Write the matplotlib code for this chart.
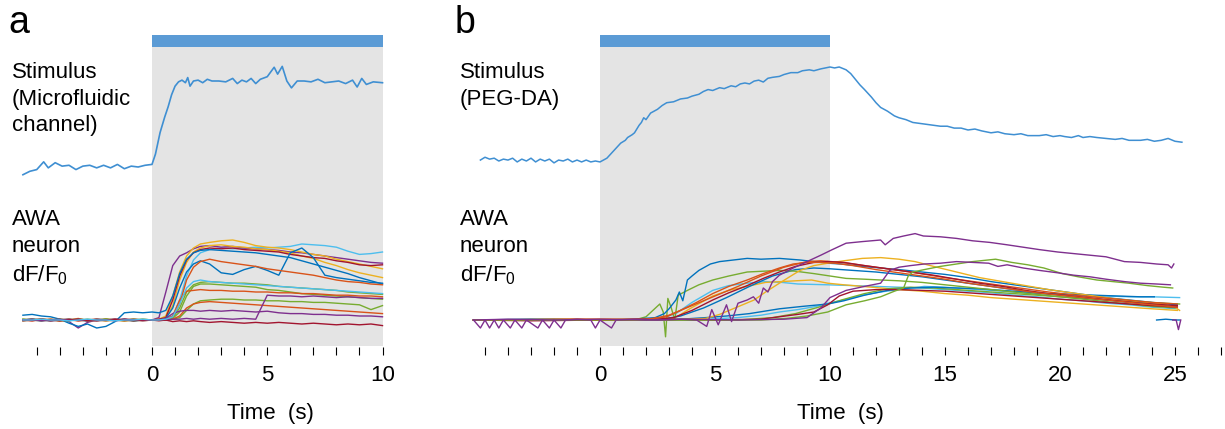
import matplotlib
matplotlib.use("Agg")
import matplotlib.pyplot as plt

plt.rcParams["font.family"] = ["Liberation Sans", "DejaVu Sans"]
plt.rcParams["mathtext.default"] = "regular"

W, H = 1225, 429

# ---------------- data ----------------
# panel a, stimulus (normalised) as (time s, value)
stim_a = [(-5.6, -0.09), (-5.3, -0.05), (-5.0, -0.03), (-4.7, 0.06), (-4.5, -0.01), (-4.2, 0.05),
          (-3.9, 0.01), (-3.6, 0.02), (-3.3, -0.03), (-3.0, 0.01), (-2.7, 0.02), (-2.4, -0.01),
          (-2.1, 0.02), (-1.8, -0.01), (-1.5, 0.03), (-1.2, -0.02), (-0.9, 0.01), (-0.6, 0.0),
          (-0.3, 0.02), (0.0, 0.03), (0.15, 0.15), (0.35, 0.40), (0.55, 0.58), (0.7, 0.70),
          (0.85, 0.84), (1.0, 0.94), (1.15, 0.99), (1.3, 1.01), (1.45, 0.98), (1.55, 1.04),
          (1.65, 0.94), (1.8, 1.0), (2.0, 1.01), (2.2, 0.98), (2.4, 1.02), (2.6, 1.0), (2.9, 1.0),
          (3.2, 0.99), (3.5, 1.03), (3.7, 0.97), (3.9, 1.01), (4.1, 0.99), (4.3, 1.03), (4.5, 0.97),
          (4.7, 1.02), (5.0, 1.05), (5.3, 1.16), (5.45, 1.08), (5.65, 1.17), (5.85, 1.0),
          (6.05, 0.92), (6.3, 1.0), (6.6, 1.0), (6.9, 0.99), (7.2, 1.02), (7.5, 0.98), (7.8, 0.99),
          (8.1, 1.0), (8.4, 0.97), (8.7, 1.01), (8.9, 0.93), (9.1, 1.03), (9.3, 0.96), (9.6, 0.99),
          (10.0, 0.98)]

# panel a, AWA dF/F0 traces on a shared time grid
t_a = [-5.6, -5.2, -4.8, -4.4, -4.0, -3.6, -3.2, -2.8, -2.4, -2.0, -1.6, -1.2, -0.8, -0.4,
       0.0, 0.3, 0.6, 0.9, 1.2, 1.5, 1.8, 2.1,
       2.5, 3.0, 3.5, 4.0, 4.5, 5.0, 5.5, 6.0, 6.5, 7.0, 7.5, 8.0, 8.5, 9.0, 9.5, 10.0]
a01 = [1, 0, -1, 1, 0, -1, 1, 0, -1, 0, 1, 0, -1, 0,
       0, 0, 1, 5, 25, 55, 75, 84,
       88, 90, 89, 90, 91, 90, 91, 92, 95, 94, 93, 91, 86, 82, 83, 85]
a02 = [0, 1, -1, 0, 1, -2, -10, -3, 0, 1, -1, 0, 1, 0,
       0, 3, 35, 68, 80, 84, 89, 92,
       93, 91, 92, 90, 89, 88, 87, 85, 84, 82, 80, 78, 76, 74, 72, 71]
a03 = [0, 1, 0, -1, 1, 0, 2, -1, 0, 1, 0, -1, 0, 1,
       0, 1, 5, 30, 60, 80, 90, 95,
       97, 99, 100, 97, 93, 91, 90, 88, 85, 82, 80, 76, 73, 70, 67, 64]
a04 = [1, 0, 0, 1, -1, 0, 1, 0, -1, 0, 1, 0, 0, -1,
       0, 0, 2, 18, 50, 72, 85, 90,
       93, 94, 92, 91, 89, 88, 86, 84, 80, 77, 72, 68, 63, 59, 56, 53]
a05 = [0, -1, 1, 0, 0, 1, -1, 0, 1, 0, -1, 1, 0, 0,
       0, 1, 3, 25, 55, 75, 84, 88,
       90, 89, 90, 88, 87, 86, 85, 82, 80, 78, 77, 74, 72, 69, 68, 69]
a06 = [6, 7, 5, 4, 1, -4, -8, -5, -10, -8, -2, 9, 10, 9,
       10, 9, 12, 30, 58, 76, 84, 87,
       88, 87, 86, 85, 84, 82, 80, 78, 74, 70, 66, 62, 58, 53, 49, 45]
a07 = [0, 1, 0, -1, 0, 1, 0, -1, 1, 0, 0, 1, -1, 0,
       0, 0, 2, 15, 40, 60, 70, 74,
       70, 59, 57, 63, 67, 62, 56, 84, 90, 78, 56, 53, 51, 49, 47, 46]
a08 = [0, 0, 1, -1, 0, 1, 0, 0, -1, 1, 0, 0, 1, 0,
       0, 0, 1, 3, 20, 50, 66, 73,
       76, 73, 71, 69, 67, 64, 62, 60, 58, 56, 53, 50, 48, 47, 45, 44]
a09 = [-1, 0, 1, 0, 0, -1, 1, 0, 0, 1, 0, -1, 0, 1,
       0, 0, 1, 3, 15, 35, 44, 47,
       48, 47, 46, 46, 45, 44, 42, 41, 40, 39, 38, 37, 35, 34, 33, 32]
a10 = [0, 1, 0, 0, -1, 0, 0, 1, 0, -1, 0, 0, 1, 0,
       0, 0, 0, 2, 10, 30, 42, 45,
       45, 44, 43, 42, 41, 38, 37, 35, 33, 32, 31, 30, 29, 28, 27, 26]
a11 = [0, -1, 0, 1, 0, 0, -1, 0, 1, 0, 0, -1, 0, 0,
       0, 0, 1, 5, 25, 36, 37, 38,
       37, 37, 36, 36, 35, 35, 34, 34, 33, 33, 32, 31, 31, 30, 30, 29]
a12 = [1, 0, -1, 0, 1, 0, 0, -1, 0, 1, 0, 0, -1, 0,
       0, 0, 0, 1, 3, 12, 20, 24,
       25, 26, 26, 25, 25, 24, 24, 23, 23, 22, 22, 21, 20, 19, 13, 18]
a13 = [0, 0, 1, 0, -1, 0, 1, 0, 0, -1, 0, 1, 0, 0,
       0, 0, 0, 1, 5, 15, 20, 22,
       23, 22, 21, 20, 19, 18, 17, 16, 15, 14, 13, 12, 11, 10, 9, 8]
a14 = [0, 1, 0, -1, 0, 0, 1, 0, -1, 0, 0, 1, 0, -1,
       0, 0, 2, 8, 11, 12, 12, 11,
       12, 11, 12, 11, 10, 11, 9, 8, 8, 7, 7, 6, 6, 5, 5, 4]
a15 = [0, 0, -1, 0, 1, 0, 0, -1, 0, 0, 1, 0, 0, 0,
       0, 0, 0, 1, 1, 2, 1, 2,
       1, 2, 1, 2, 1, 31, 30, 30, 29, 30, 29, 28, 29, 28, 27, 27]
a16 = [-1, 0, 1, 0, -1, 0, 1, -1, 0, 0, 1, 0, -1, 0,
       0, -1, 0, -2, -1, -2, -1, -2,
       -3, -2, -3, -4, -3, -4, -3, -4, -5, -4, -5, -6, -5, -6, -5, -7]
a17 = [0, 0, 1, 0, 0, -1, 0, 1, 0, 0, -1, 0, 0, 1,
       0, 0, 1, 4, 20, 40, 48, 50,
       48, 47, 46, 45, 44, 43, 42, 41, 40, 39, 38, 37, 36, 35, 34, 33]

# panel b, stimulus (normalised)
stim_b = [(-5.2, 0.01), (-5.0, 0.04), (-4.8, 0.02), (-4.6, 0.03), (-4.4, 0.0), (-4.2, 0.02),
          (-4.0, 0.01), (-3.8, 0.03), (-3.6, -0.01), (-3.4, 0.02), (-3.2, 0.0), (-3.0, 0.03),
          (-2.8, -0.01), (-2.6, 0.02), (-2.4, 0.0), (-2.2, 0.02), (-2.0, -0.02), (-1.8, 0.01),
          (-1.6, 0.0), (-1.4, 0.02), (-1.2, -0.01), (-1.0, 0.01), (-0.8, -0.01), (-0.6, 0.01),
          (-0.4, -0.01), (-0.2, 0.0), (0.0, -0.01), (0.3, 0.03), (0.6, 0.11), (0.9, 0.19),
          (1.1, 0.22), (1.2, 0.25), (1.4, 0.28), (1.5, 0.30), (1.7, 0.38), (1.8, 0.41),
          (1.9, 0.46), (2.0, 0.44), (2.2, 0.51), (2.5, 0.55), (2.7, 0.59), (2.9, 0.62),
          (3.2, 0.63), (3.5, 0.66), (3.8, 0.67), (4.0, 0.69), (4.3, 0.71), (4.5, 0.74),
          (4.7, 0.76), (4.9, 0.75), (5.2, 0.78), (5.4, 0.77), (5.7, 0.80), (5.9, 0.79),
          (6.1, 0.82), (6.3, 0.83), (6.5, 0.82), (6.7, 0.85), (6.9, 0.86), (7.1, 0.84),
          (7.3, 0.88), (7.5, 0.89), (7.8, 0.90), (8.0, 0.92), (8.3, 0.94), (8.6, 0.94),
          (8.8, 0.96), (9.1, 0.97), (9.3, 0.96), (9.6, 0.98), (9.8, 0.99), (10.0, 1.0),
          (10.2, 0.99), (10.4, 1.0), (10.7, 0.97), (10.9, 0.93), (11.1, 0.87), (11.3, 0.81),
          (11.5, 0.76), (11.8, 0.68), (12.0, 0.62), (12.2, 0.57), (12.5, 0.53), (12.8, 0.48),
          (13.0, 0.46), (13.3, 0.44), (13.6, 0.41), (13.9, 0.40), (14.2, 0.39), (14.5, 0.38),
          (14.8, 0.37), (15.1, 0.37), (15.4, 0.35), (15.7, 0.35), (16.0, 0.33), (16.3, 0.34),
          (16.6, 0.32), (17.0, 0.30), (17.3, 0.31), (17.6, 0.29), (18.0, 0.28), (18.3, 0.29),
          (18.6, 0.27), (19.1, 0.27), (19.4, 0.28), (19.7, 0.26), (20.0, 0.27), (20.2, 0.26),
          (20.5, 0.25), (20.8, 0.27), (21.0, 0.25), (21.3, 0.26), (21.6, 0.25), (22.0, 0.24),
          (22.4, 0.23), (22.7, 0.24), (23.0, 0.22), (23.5, 0.22), (23.8, 0.23), (24.1, 0.21),
          (24.4, 0.22), (24.7, 0.24), (25.0, 0.21), (25.3, 0.20)]

# panel b, AWA dF/F0 traces as (time s, value)
b_purple1 = [(-5.5, 0), (-5.2, -10), (-5.0, 0), (-4.8, -10), (-4.6, 0), (-4.4, -10), (-4.2, 0),
             (-3.9, -10), (-3.7, 0), (-3.4, -10), (-3.2, 0), (-2.7, -10), (-2.5, 0), (-2.2, -10),
             (-2.0, 0), (-1.7, -10), (-1.5, 0), (-1.0, 1), (-0.4, 0), (-0.2, -10), (0.0, 0),
             (0.5, -10), (0.7, 0), (1.5, 1), (2.5, 0), (3.5, 1), (4.2, 0), (4.64, -8), (4.86, 13),
             (5.14, -6), (5.5, 19), (5.72, -2), (6.0, 21), (6.4, 25), (6.67, 29), (6.9, 21),
             (7.1, 40), (7.3, 35), (7.5, 48), (7.8, 56), (8.4, 65), (9.0, 73), (9.6, 81),
             (10.1, 88), (10.7, 96), (11.4, 98), (12.2, 100), (12.4, 94), (12.75, 102), (13.2, 105),
             (13.7, 108), (14.06, 105), (14.8, 104), (15.5, 102), (16.2, 99), (16.95, 97),
             (17.7, 94), (18.4, 91), (19.1, 88), (19.9, 85), (20.6, 83), (21.3, 81), (22.0, 79),
             (22.8, 73), (23.5, 72), (24.2, 70), (24.7, 69), (24.85, 65), (24.95, 70)]
b_purple2 = [(-5.5, 0), (-4, 1), (-2, 0), (0, 1), (2, 0), (4, 1), (6, 0), (8, 1), (9.0, 3),
             (9.6, 15), (10.0, 28), (10.7, 37), (11.5, 42), (12.2, 46), (12.6, 62), (13.0, 66),
             (13.5, 68), (14.1, 70), (14.8, 71), (15.5, 73), (16.2, 72), (16.9, 71), (17.3, 67),
             (17.7, 69), (18.4, 65), (19.1, 62), (19.9, 59), (20.6, 56), (21.3, 54), (22.0, 51),
             (22.8, 48), (23.5, 46), (24.2, 45), (24.8, 44)]
b_blue1 = [(-5.5, 0), (-3, 1), (0, 0), (1.5, 1), (2.4, 3), (2.8, 8), (3.0, 14), (3.3, 25),
           (3.45, 35), (3.6, 24), (3.8, 50), (4.0, 55), (4.3, 62), (4.8, 70), (5.2, 73), (5.8, 75),
           (6.4, 77), (7.0, 76), (7.8, 77), (8.7, 75), (9.3, 73), (9.9, 71), (10.5, 70),
           (11.4, 67), (12.2, 65), (13.0, 63), (14, 60), (15, 57), (16, 53), (17, 48), (18, 44),
           (19, 40), (20, 36), (21, 32), (22, 28), (23, 25), (24, 22), (25.1, 19)]
b_green1 = [(-5.5, 0), (-2, 1), (0, 0), (1.5, 0), (2.0, 4), (2.3, 12), (2.6, 20), (2.75, 10),
            (2.85, -21), (2.95, 27), (3.1, 15), (3.25, 0), (3.4, 31), (3.8, 37), (4.3, 44),
            (4.9, 50), (5.6, 55), (6.4, 60), (7.1, 61), (7.8, 62), (8.5, 61), (9.3, 58),
            (10.0, 55), (10.7, 52), (11.5, 51), (12.2, 50), (13.0, 49), (14, 47), (15, 44),
            (16, 41), (17, 38), (18, 35), (19, 32), (20, 29), (21, 26), (22, 23), (23, 20),
            (24, 17), (25.1, 15)]
b_red1 = [(-5.5, 0), (-1, 1), (0, 0), (2.0, 1), (2.9, 4), (3.5, 12), (4.2, 22), (4.9, 33),
          (5.6, 42), (6.4, 50), (7.1, 58), (7.8, 65), (8.4, 70), (9.0, 72), (9.6, 72), (10.2, 71),
          (11.0, 68), (12.0, 63), (13.0, 59), (14.0, 55), (15.0, 51), (16.0, 46), (17.0, 42),
          (18.0, 38), (19.0, 34), (20.0, 31), (21.0, 28), (22.0, 25), (23.0, 22), (24.0, 19),
          (25.1, 16)]
b_red2 = [(-5.5, 0), (-3, -1), (0, 0), (2.5, 1), (3.2, 3), (4.0, 12), (4.9, 25), (5.6, 34),
          (6.4, 43), (7.1, 52), (7.8, 60), (8.5, 67), (9.3, 72), (9.9, 73), (10.6, 72),
          (11.5, 68), (12.5, 64), (13.5, 60), (14.5, 56), (15.5, 51), (16.5, 46), (17.5, 42),
          (18.5, 37), (19.5, 33), (20.5, 30), (21.5, 27), (22.5, 24), (23.5, 21), (24.5, 19),
          (25.1, 18)]
b_red3 = [(-5.5, 0), (-2, 0), (0, 0), (3, 1), (5, 0), (7.0, 1), (7.8, 4), (8.6, 7), (9.3, 10),
          (9.9, 19), (10.4, 30), (11.0, 36), (12.0, 38), (13.0, 38), (14.0, 37), (15.0, 36),
          (16.0, 34), (17.0, 32), (18.0, 30), (19.0, 28), (20.0, 26), (21.0, 24), (22.0, 22),
          (23.0, 20), (24.0, 18), (25.1, 16)]
b_red4 = [(-5.5, 0), (0, 1), (2.2, 1), (3.0, 6), (4.0, 18), (5.0, 30), (6.0, 42), (7.0, 55),
          (8.0, 66), (9.0, 73), (9.6, 74), (10.5, 72), (12, 66), (13.5, 60), (15, 53),
          (16.5, 47), (18, 41), (19.5, 35), (21, 30), (22.5, 26), (24, 22), (25.1, 20)]
b_yellow1 = [(-5.5, 0), (-1, 0), (0, 0), (3.0, 0), (4.6, 2), (5.2, 7), (5.7, 13), (6.2, 19),
             (6.7, 25), (7.2, 35), (7.8, 46), (8.3, 55), (8.7, 62), (9.3, 68), (9.9, 71),
             (10.6, 74), (11.4, 77), (12.2, 78), (13.0, 76), (13.7, 73), (14.5, 67), (15.5, 60),
             (16.5, 53), (17.5, 48), (18.5, 43), (19.5, 38), (20.5, 34), (21.5, 30), (22.5, 26),
             (23.5, 23), (24.5, 20), (25.0, 16), (25.2, 12)]
b_yellow2 = [(-5.5, 0), (0, 1), (3.0, 0), (3.4, 5), (3.9, 14), (4.4, 22), (4.9, 30), (5.6, 37),
             (6.4, 42), (7.2, 47), (7.9, 48), (8.5, 49), (9.2, 50), (9.9, 46), (10.6, 44),
             (11.4, 42), (12.2, 40), (13.0, 38), (14, 36), (15, 33), (16, 31), (17, 28), (18, 26),
             (19, 24), (20, 22), (21, 20), (22, 18), (23, 16), (24, 14), (25.1, 12)]
b_lblue1 = [(-5.5, 0), (0, 0), (2.5, 1), (3.3, 8), (4.0, 22), (4.9, 37), (5.6, 43), (6.4, 46),
            (7.2, 48), (7.9, 47), (8.6, 45), (9.9, 44), (11.0, 43), (12.0, 42), (13.0, 41),
            (14, 40), (15, 38), (16, 36), (17, 34), (18, 31), (19, 29), (20, 26), (21, 24),
            (22, 21), (23, 19), (24, 16), (25.1, 14)]
b_lblue2 = [(-5.5, 0), (0, 0), (4, 0), (6, 3), (7.0, 6), (7.8, 10), (8.6, 13), (9.4, 17),
            (9.9, 21), (10.6, 25), (11.4, 31), (12.2, 35), (13.0, 38), (14.1, 42), (15, 41),
            (16, 39), (17, 37), (18, 35), (19, 33), (20, 32), (21, 31), (22, 30), (23, 29),
            (24, 29), (25.2, 28)]
b_blue2 = [(-5.5, 0), (0, 0), (3, 0), (4.6, 3), (5.5, 5), (6.5, 8), (7.8, 14), (8.8, 17),
           (9.9, 20), (10.6, 24), (11.5, 31), (12.5, 37), (13.5, 40), (14.5, 41), (15.5, 40),
           (16.5, 39), (17.5, 37), (18.5, 35), (19.5, 33), (20.5, 32), (21.5, 31), (22.5, 30),
           (23.5, 29), (24.1, 29)]
b_blue3 = [(-5.5, 0), (0, 0), (2.5, 0), (3.5, 5), (4.5, 15), (5.5, 28), (6.5, 42), (7.5, 55),
           (8.5, 63), (9.3, 65), (10, 64), (11, 62), (12, 60), (13, 57), (14, 54), (15, 50),
           (16, 46), (17, 42), (18, 38), (19, 34), (20, 31), (21, 28), (22, 25), (23, 22),
           (24, 20), (25.1, 17)]
b_green2 = [(-5.5, 0), (0, 0), (5, 0), (7.0, 0), (8.1, 2), (9.0, 5), (9.9, 10), (10.7, 19),
            (11.5, 24), (12.2, 29), (12.8, 36), (13.2, 40), (13.4, 55), (13.6, 60), (14.1, 63),
            (14.8, 67), (15.5, 70), (16.2, 73), (17.2, 76), (17.9, 72), (18.6, 69), (19.3, 65),
            (20.1, 58), (20.8, 54), (21.6, 50), (22.3, 48), (23.0, 46), (23.8, 43), (24.5, 41),
            (24.9, 40)]
b_green3 = [(-5.5, 0), (0, 0), (6, 0), (7.5, 3), (8.5, 8), (9.5, 16), (10.5, 25), (11.5, 33),
            (12.5, 39), (13.5, 41), (14.5, 40), (15.5, 38), (17, 35), (18.5, 32), (20, 29),
            (21.5, 26), (23, 23), (24.5, 21), (25.2, 20)]
b_blue_tail = [(24.2, 0), (24.6, 1), (25.0, 0), (25.2, 0)]
b_purple_tail = [(24.9, 0), (25.05, 0), (25.15, -12), (25.25, 0)]

ticks_a = list(range(-5, 11))
labels_a = [0, 5, 10]
ticks_b = list(range(-5, 28))
labels_b = [0, 5, 10, 15, 20, 25]

# ---------------- style ----------------
BLUE, ORANGE, YELLOW, PURPLE = "#0072BD", "#D95319", "#EDB120", "#7E2F8E"
GREEN, LBLUE, DRED = "#77AC30", "#4DBEEE", "#A2142F"
STIM, BAR, SHADE = "#3F8FD2", "#5B9BD5", "#E4E4E4"

fig = plt.figure(figsize=(W / 100, H / 100), dpi=100)


def px_axes(x0, x1, top, bottom):
    return fig.add_axes([x0 / W, 1 - bottom / H, (x1 - x0) / W, (bottom - top) / H])


def base_panel(xlim, x0, scale, ticks, labels):
    # shaded stimulus window, stimulus bar and the time ticks
    ax = px_axes(x0 + scale * xlim[0], x0 + scale * xlim[1], 35, 355)
    ax.set_xlim(xlim)
    ax.set_ylim(0, 1)
    ax.axvspan(0, 10, ymin=9 / 320, ymax=308 / 320, color=SHADE, lw=0)
    ax.axvspan(0, 10, ymin=308 / 320, ymax=1, color=BAR, lw=0)
    for s in ax.spines.values():
        s.set_visible(False)
    ax.patch.set_visible(False)
    ax.set_yticks([])
    ax.set_xticks(labels)
    ax.set_xticklabels([str(v) for v in labels])
    ax.set_xticks(ticks, minor=True)
    ax.tick_params(axis="x", which="both", direction="in", length=5.8, width=0.8,
                   color="black", labelsize=16, pad=7)
    return ax


def trace_axes(xlim, x0, scale, v0, py0, v1, py1):
    ax = px_axes(x0 + scale * xlim[0], x0 + scale * xlim[1], 0, H)
    k = (py0 - py1) / (v1 - v0)
    ax.set_ylim(v0 - (H - py0) / k, v0 + py0 / k)
    ax.set_xlim(xlim)
    ax.axis("off")
    return ax


def draw(ax, pairs, color, lw=1.0):
    ts, vs = zip(*pairs)
    ax.plot(ts, vs, color=color, lw=lw, clip_on=False)


# ---------------- panel a ----------------
xlim_a, x0_a, sc_a = (-6.0, 10.6), 152, 23.05
base_panel(xlim_a, x0_a, sc_a, ticks_a, labels_a)

sa = trace_axes(xlim_a, x0_a, sc_a, 0, 167, 1, 81)
draw(sa, stim_a, STIM, 1.2)

na = trace_axes(xlim_a, x0_a, sc_a, 0, 320, 100, 240)
a_traces = [a01, a02, a03, a04, a05, a06, a07, a08, a09, a10, a11, a12, a13, a14, a15, a16, a17]
a_colors = [LBLUE, PURPLE, YELLOW, YELLOW, DRED, BLUE, BLUE, ORANGE, GREEN, GREEN, ORANGE,
            GREEN, ORANGE, PURPLE, PURPLE, DRED, LBLUE]
for vals, c in zip(a_traces, a_colors):
    draw(na, list(zip(t_a, vals)), c)

# ---------------- panel b ----------------
xlim_b, x0_b, sc_b = (-5.8, 27.15), 600, 23.0
base_panel(xlim_b, x0_b, sc_b, ticks_b, labels_b)

sb = trace_axes(xlim_b, x0_b, sc_b, 0, 161, 1, 67)
draw(sb, stim_b, STIM, 1.1)

nb = trace_axes(xlim_b, x0_b, sc_b, 0, 320, 100, 240)
b_traces = [b_lblue1, b_lblue2, b_yellow2, b_green3, b_blue2, b_blue3, b_green1, b_blue1,
            b_yellow1, b_red3, b_red4, b_red2, b_red1, b_green2, b_purple2, b_purple1,
            b_blue_tail, b_purple_tail]
b_colors = [LBLUE, LBLUE, YELLOW, GREEN, BLUE, BLUE, GREEN, BLUE, YELLOW, DRED, ORANGE, DRED,
            ORANGE, GREEN, PURPLE, PURPLE, BLUE, PURPLE]
for pairs, c in zip(b_traces, b_colors):
    draw(nb, pairs, c)

# ---------------- text ----------------
def ftext(x, y, s, **kw):
    fig.text(x / W, 1 - y / H, s, **kw)


ftext(8, 33, "a", fontsize=27, va="baseline")
ftext(455, 33, "b", fontsize=27, va="baseline")
ftext(12, 62, "Stimulus\n(Microfluidic\nchannel)", fontsize=16, va="top", linespacing=1.35)
ftext(460, 62, "Stimulus\n(PEG-DA)", fontsize=16, va="top", linespacing=1.35)
for x in (12, 460):
    ftext(x, 209, "AWA\nneuron\ndF/F$_0$", fontsize=16, va="top", linespacing=1.35)
ftext(270, 414, "Time  (s)", fontsize=16, ha="center", va="center")
ftext(840, 414, "Time  (s)", fontsize=16, ha="center", va="center")

fig.savefig("out.png", dpi=100)
